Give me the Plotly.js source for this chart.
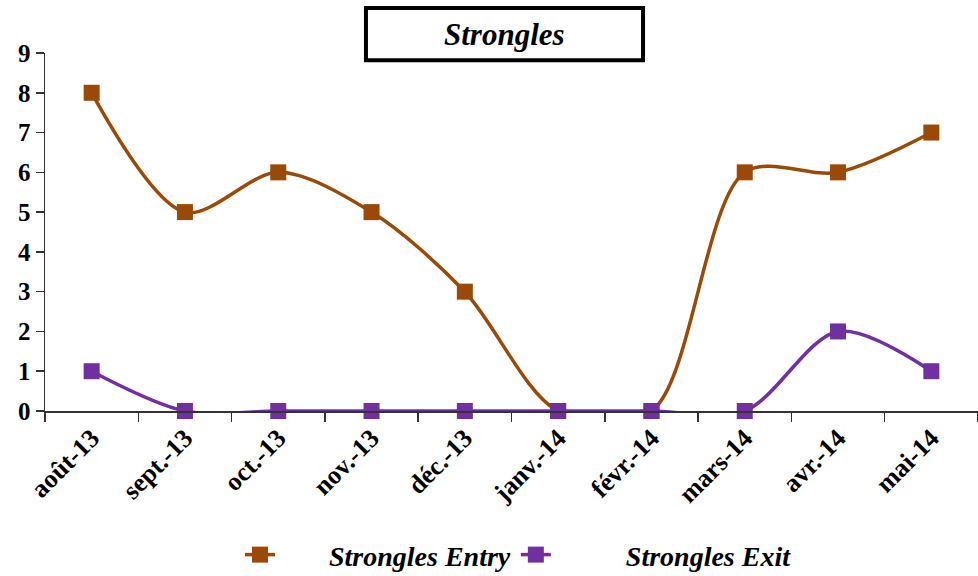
<!DOCTYPE html>
<html>
<head>
<meta charset="utf-8">
<script src="https://cdn.plot.ly/plotly-3.0.1.min.js"></script>
<style>html,body{margin:0;padding:0;background:#fff;}#chart{width:978px;height:576px;}</style>
</head>
<body>
<div id="chart"></div>
<script>
const categories = ["août-13","sept.-13","oct.-13","nov.-13","déc.-13","janv.-14","févr.-14","mars-14","avr.-14","mai-14"];
const entryValues = [8,5,6,5,3,0,0,6,6,7];
const exitValues = [1,0,0,0,0,0,0,0,2,1];
const seriesNames = ["Strongles Entry","Strongles Exit"];
const chartTitle = "Strongles";

const serif = "Liberation Serif";
const pad = n => "\u00a0".repeat(n);
const mk = (y, name, color) => ({
  x: categories, y: y, name: name, type: "scatter", mode: "lines+markers",
  line: {color: color, width: 3.5, shape: "spline", smoothing: 0.9},
  marker: {symbol: "square", size: 16, color: color},
  cliponaxis: false
});
const data = [mk(entryValues, pad(7) + seriesNames[0], "#9A4A06"),
              mk(exitValues, pad(10) + seriesNames[1], "#7030A0")];

const layout = {
  width: 978, height: 576,
  margin: {l: 45, r: 0, t: 53, b: 165, autoexpand: false},
  paper_bgcolor: "#fff", plot_bgcolor: "#fff",
  font: {family: serif, color: "#000"},
  showlegend: true,
  legend: {orientation: "h", x: 0.209, xanchor: "left", y: -0.402, yanchor: "middle",
           font: {family: serif, size: 28, color: "#000", weight: "bold", style: "italic"},
           traceorder: "normal"},
  xaxis: {type: "category", range: [-0.5, 9.5], showline: true, linecolor: "#333", linewidth: 1.5,
          ticks: "outside", ticklen: 9, tickcolor: "#333", tickwidth: 1.5, tickson: "boundaries",
          tickangle: -45, showgrid: false, zeroline: false, automargin: false,
          tickfont: {family: serif, size: 26, weight: "bold", color: "#000"}},
  yaxis: {range: [0, 9], dtick: 1, showline: true, linecolor: "#333", linewidth: 1.5,
          ticks: "outside", ticklen: 8, tickcolor: "#333", tickwidth: 1.5,
          showgrid: false, zeroline: false, automargin: false,
          tickfont: {family: serif, size: 25, weight: "bold", color: "#000"}},
  shapes: [{type: "rect", xref: "paper", yref: "paper", x0: 0.344, x1: 0.641, y0: 0.98, y1: 1.1257,
            line: {color: "#000", width: 4}, fillcolor: "#fff", layer: "above"}],
  annotations: [{text: chartTitle, xref: "paper", yref: "paper", x: 0.4925, y: 1.053,
                 xanchor: "center", yanchor: "middle", showarrow: false,
                 font: {family: serif, size: 31, weight: "bold", style: "italic", color: "#000"}}]
};
Plotly.newPlot("chart", data, layout, {displayModeBar: false, staticPlot: true});
</script>
</body>
</html>
